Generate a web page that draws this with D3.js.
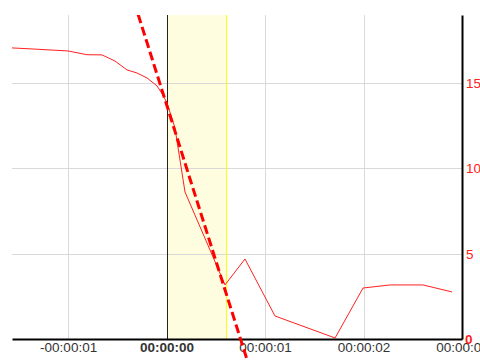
<!DOCTYPE html>
<html>
<head>
<meta charset="utf-8">
<script src="https://d3js.org/d3.v7.min.js"></script>
<style>
  body { margin: 0; background: #fff; }
  svg { display: block; font-family: "Liberation Sans", Arial, sans-serif; }
</style>
</head>
<body>
<div id="chartbox"></div>
<script>
const WIDTH = 480
const HEIGHT = 360
const plot = { left: 12, right: 462, top: 15, bottom: 339 }

// series: seconds relative to the marker, value
const times = [-1.57, -1.306, -1.0, -0.808, -0.656, -0.524, -0.402, -0.301, -0.199, -0.097, -0.037, 0.004, 0.085, 0.187, 0.441, 0.593, 0.796, 1.101, 1.711, 1.995, 2.269, 2.604, 2.898]
const values = [17.07, 16.99, 16.89, 16.67, 16.66, 16.3, 15.78, 15.6, 15.31, 14.84, 14.31, 13.84, 12.38, 8.62, 5.22, 3.17, 4.69, 1.35, 0.06, 2.99, 3.17, 3.17, 2.76]

// trend line (dashed) : value at t=0 and slope per second
const trendStart = 13.74
const trendSlope = -18.3
const trendRange = [-1.6, 0.95]

const band = [0, 0.605]
const xTicks = [-1, 0, 1, 2, 3]
const yTicks = [0, 5, 10, 15]
const xDomain = [-1.57, 3]
const yDomain = [0, 19]

const fmt = s => (s < 0 ? '-' : '') + '00:00:0' + Math.abs(s)

const x = d3.scaleLinear().domain(xDomain).range([plot.left, plot.right])
const y = d3.scaleLinear().domain(yDomain).range([plot.bottom, plot.top])

const svg = d3.select('#chartbox')
  .append('svg')
  .attr('width', WIDTH)
  .attr('height', HEIGHT)

svg.append('clipPath').attr('id', 'clipTop')
  .append('rect')
  .attr('x', 0).attr('y', plot.top)
  .attr('width', WIDTH).attr('height', HEIGHT - plot.top)

// highlighted band
svg.append('rect')
  .attr('x', x(band[0]))
  .attr('y', plot.top)
  .attr('width', x(band[1]) - x(band[0]))
  .attr('height', plot.bottom - plot.top)
  .attr('fill', '#fffddf')

// grid
svg.append('g')
  .selectAll('line')
  .data(xTicks.filter(d => d !== 0 && d !== 3))
  .enter()
  .append('line')
  .attr('x1', d => Math.round(x(d)) + 0.5)
  .attr('x2', d => Math.round(x(d)) + 0.5)
  .attr('y1', plot.top)
  .attr('y2', plot.bottom)
  .attr('stroke', '#d9d9d9')

svg.append('g')
  .selectAll('line')
  .data(yTicks.filter(d => d !== 0))
  .enter()
  .append('line')
  .attr('x1', plot.left)
  .attr('x2', plot.right)
  .attr('y1', d => Math.round(y(d)) + 0.5)
  .attr('y2', d => Math.round(y(d)) + 0.5)
  .attr('stroke', '#d9d9d9')

// band edge and zero marker
svg.append('line')
  .attr('x1', Math.round(x(band[1])) + 0.5)
  .attr('x2', Math.round(x(band[1])) + 0.5)
  .attr('y1', plot.top).attr('y2', plot.bottom)
  .attr('stroke', '#ffff00')

svg.append('line')
  .attr('x1', Math.round(x(0)) + 0.5)
  .attr('x2', Math.round(x(0)) + 0.5)
  .attr('y1', plot.top).attr('y2', plot.bottom)
  .attr('stroke', '#222')

// data line
const line = d3.line()
  .x((d, i) => x(times[i]))
  .y(d => y(d))

svg.append('path')
  .datum(values)
  .attr('d', line)
  .attr('fill', 'none')
  .attr('stroke', '#ff2020')
  .attr('stroke-width', 1)

// axes
const xAxis = d3.axisBottom(x)
  .tickValues(xTicks)
  .tickFormat(fmt)
  .tickSize(0)
  .tickPadding(3)

const gx = svg.append('g')
  .attr('transform', 'translate(0,' + plot.bottom + ')')
  .call(xAxis)
gx.select('.domain').attr('stroke', '#000').attr('stroke-width', 2)
gx.selectAll('text')
  .attr('fill', '#333')
  .attr('font-size', 13.5)
  .attr('font-family', '"Liberation Sans", Arial, sans-serif')
  .attr('font-weight', d => d === 0 ? 'bold' : 'normal')

const yAxis = d3.axisRight(y)
  .tickValues(yTicks)
  .tickSize(0)
  .tickPadding(4)

const gy = svg.append('g')
  .attr('transform', 'translate(' + plot.right + ',0)')
  .call(yAxis)
gy.select('.domain').attr('stroke', '#000').attr('stroke-width', 2)
gy.selectAll('text')
  .attr('fill', '#ff2020')
  .attr('font-size', 13.5)
  .attr('font-family', '"Liberation Sans", Arial, sans-serif')
  .attr('font-weight', d => d === 0 ? 'bold' : 'normal')
  .attr('dx', d => d === 0 ? -1 : 0)

// dashed trend line
svg.append('line')
  .attr('clip-path', 'url(#clipTop)')
  .attr('x1', x(trendRange[0]))
  .attr('y1', y(trendStart + trendSlope * trendRange[0]))
  .attr('x2', x(trendRange[1]))
  .attr('y2', y(trendStart + trendSlope * trendRange[1]))
  .attr('stroke', '#ff0000')
  .attr('stroke-width', 3)
  .attr('stroke-dasharray', '9,4')
</script>
</body>
</html>
